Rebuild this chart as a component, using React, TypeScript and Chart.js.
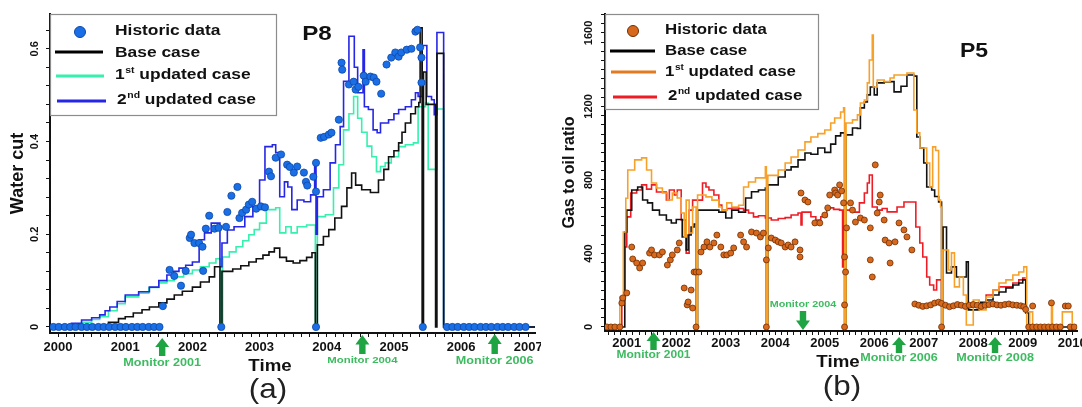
import React, { useEffect, useRef } from 'react';
import { Chart, registerables } from 'chart.js';

Chart.register(...registerables);

const SANS = '"Liberation Sans", Arial, Helvetica, sans-serif';

// ---------------- P8 : water cut ----------------
const p8Historic: [number, number][] = [
  [1999.93, 0], [2000.01, 0], [2000.1, 0], [2000.18, 0], [2000.26, 0], [2000.35, 0], [2000.43, 0],
  [2000.51, 0], [2000.6, 0], [2000.68, 0], [2000.76, 0], [2000.85, 0], [2000.93, 0], [2001.01, 0],
  [2001.1, 0], [2001.18, 0], [2001.26, 0], [2001.35, 0], [2001.43, 0], [2001.51, 0],
  [2001.56, 0.045], [2001.66, 0.123], [2001.73, 0.11], [2001.83, 0.089], [2001.9, 0.121], [2001.96, 0.192],
  [2001.98, 0.199], [2002.03, 0.181], [2002.1, 0.181], [2002.15, 0.173], [2002.16, 0.121], [2002.2, 0.212],
  [2002.25, 0.24], [2002.33, 0.212], [2002.39, 0.214], [2002.43, 0], [2002.5, 0.216], [2002.52, 0.248],
  [2002.58, 0.283], [2002.67, 0.302], [2002.7, 0.235], [2002.74, 0.246], [2002.8, 0.253], [2002.84, 0.264],
  [2002.89, 0.27], [2002.95, 0.255], [2003.02, 0.26], [2003.08, 0.258], [2003.14, 0.335], [2003.17, 0.325],
  [2003.24, 0.365], [2003.32, 0.372], [2003.41, 0.35], [2003.45, 0.345], [2003.51, 0.333], [2003.56, 0.346],
  [2003.66, 0.333], [2003.69, 0.313], [2003.71, 0.305], [2003.8, 0.324], [2003.84, 0.354], [2003.84, 0.292],
  [2003.84, 0], [2003.91, 0.408], [2003.96, 0.41], [2004.03, 0.415], [2004.07, 0.419], [2004.18, 0.447],
  [2004.22, 0.57], [2004.23, 0.555], [2004.33, 0.523], [2004.4, 0.529], [2004.43, 0.512], [2004.47, 0.518],
  [2004.55, 0.542], [2004.58, 0.529], [2004.65, 0.54], [2004.7, 0.538], [2004.74, 0.529], [2004.81, 0.503],
  [2004.89, 0.566], [2004.96, 0.581], [2005.02, 0.592], [2005.07, 0.583], [2005.11, 0.592], [2005.19, 0.598],
  [2005.26, 0.6], [2005.32, 0.637], [2005.35, 0.641], [2005.39, 0.603], [2005.41, 0.581], [2005.41, 0.527],
  [2005.43, 0],
  [2005.79, 0], [2005.87, 0], [2005.95, 0], [2006.04, 0], [2006.12, 0], [2006.2, 0], [2006.29, 0],
  [2006.37, 0], [2006.45, 0], [2006.54, 0], [2006.62, 0], [2006.7, 0], [2006.79, 0], [2006.87, 0], [2006.96, 0],
];

const p8Base: [number, number][] = [
  [1999.88, 0], [2000.75, 0.01], [2000.9, 0.018], [2001.0, 0.022], [2001.12, 0.03], [2001.25, 0.037],
  [2001.36, 0.043], [2001.5, 0.052], [2001.62, 0.06], [2001.73, 0.069], [2001.85, 0.077], [2002.0, 0.086],
  [2002.12, 0.097], [2002.25, 0.108], [2002.33, 0.13], [2002.41, 0], [2002.44, 0.12], [2002.6, 0.125],
  [2002.72, 0.132], [2002.84, 0.14], [2002.95, 0.147], [2003.05, 0.155], [2003.14, 0.162], [2003.22, 0.17],
  [2003.3, 0.15], [2003.4, 0.142], [2003.5, 0.138], [2003.6, 0.143], [2003.7, 0.15], [2003.78, 0.16],
  [2003.83, 0], [2003.86, 0.177], [2003.95, 0.195], [2004.03, 0.21], [2004.12, 0.235], [2004.22, 0.26],
  [2004.3, 0.3], [2004.37, 0.332], [2004.43, 0.306], [2004.52, 0.296], [2004.65, 0.29], [2004.77, 0.317],
  [2004.85, 0.34], [2004.92, 0.367], [2005.0, 0.38], [2005.07, 0.397], [2005.12, 0.42], [2005.17, 0.44],
  [2005.25, 0.46], [2005.32, 0.475], [2005.37, 0.484], [2005.39, 0.645], [2005.42, 0], [2005.44, 0.55],
  [2005.48, 0.48], [2005.62, 0], [2005.64, 0.59], [2005.74, 0], [2007.1, 0],
];

const p8First: [number, number][] = [
  [1999.88, 0], [2000.2, 0.004], [2000.35, 0.01], [2000.5, 0.016], [2000.62, 0.022], [2000.75, 0.035],
  [2000.88, 0.05], [2001.0, 0.065], [2001.2, 0.073], [2001.35, 0.085], [2001.5, 0.095], [2001.62, 0.1],
  [2001.73, 0.108], [2001.87, 0.115], [2002.0, 0.123], [2002.12, 0.13], [2002.25, 0.138], [2002.35, 0.147],
  [2002.42, 0], [2002.45, 0.151], [2002.55, 0.162], [2002.65, 0.173], [2002.75, 0.186], [2002.84, 0.199],
  [2002.92, 0.21], [2003.0, 0.224], [2003.1, 0.253], [2003.24, 0.257], [2003.3, 0.203], [2003.39, 0.216],
  [2003.47, 0.203], [2003.56, 0.216], [2003.7, 0.22], [2003.83, 0], [2003.86, 0.238], [2003.98, 0.242],
  [2004.1, 0.3], [2004.18, 0.35], [2004.25, 0.425], [2004.33, 0.46], [2004.4, 0.497], [2004.46, 0.45],
  [2004.52, 0.42], [2004.6, 0.39], [2004.67, 0.367], [2004.74, 0.335], [2004.8, 0.346], [2004.87, 0.354],
  [2004.96, 0.367], [2005.07, 0.389], [2005.17, 0.393], [2005.29, 0.397], [2005.36, 0.475], [2005.47, 0.483],
  [2005.51, 0.34], [2005.64, 0.47], [2005.74, 0], [2007.1, 0],
];

const p8Second: [number, number][] = [
  [1999.88, 0], [2000.05, 0.004], [2000.2, 0.008], [2000.35, 0.015], [2000.5, 0.02], [2000.62, 0.026],
  [2000.7, 0.035], [2000.77, 0.043], [2000.88, 0.055], [2001.0, 0.069], [2001.2, 0.076], [2001.36, 0.086],
  [2001.5, 0.1], [2001.62, 0.112], [2001.72, 0.12], [2001.8, 0.127], [2001.9, 0.133], [2002.0, 0.14],
  [2002.1, 0.188], [2002.18, 0.203], [2002.28, 0.224], [2002.41, 0.13], [2002.44, 0.181], [2002.52, 0.209],
  [2002.62, 0.216], [2002.78, 0.238], [2002.9, 0.26], [2003.0, 0.317], [2003.08, 0.389], [2003.19, 0.393],
  [2003.24, 0.376], [2003.3, 0.281], [2003.37, 0.313], [2003.42, 0.302], [2003.48, 0.253], [2003.56, 0.274],
  [2003.66, 0.27], [2003.76, 0.285], [2003.82, 0.354], [2003.84, 0.2], [2003.86, 0.281], [2003.95, 0.296],
  [2004.05, 0.354], [2004.13, 0.393], [2004.2, 0.432], [2004.25, 0.53], [2004.33, 0.627], [2004.41, 0.56],
  [2004.46, 0.505], [2004.54, 0.598], [2004.56, 0.475], [2004.62, 0.469], [2004.69, 0.425], [2004.75, 0.419],
  [2004.8, 0.44], [2004.92, 0.447], [2005.0, 0.46], [2005.07, 0.469], [2005.17, 0.475], [2005.26, 0.49],
  [2005.32, 0.505], [2005.36, 0.497], [2005.42, 0.607], [2005.49, 0.497], [2005.56, 0.49], [2005.6, 0.458],
  [2005.64, 0.635], [2005.74, 0], [2007.1, 0],
];

const p8XTickValues = [2000, 2001, 2002, 2003, 2004, 2005, 2006, 2007];
const p8YTickValues = [0, 0.2, 0.4, 0.6];
const p8YTickLabels = ['0', '0.2', '0.4', '0.6'];
const p8MonitorYears = [2001.55, 2004.53, 2006.5];
const p8MonitorLabels = ['Monitor 2001', 'Monitor 2004', 'Monitor 2006'];
const p8SeriesLabels = ['Historic data', 'Base case', '1st updated case', '2nd updated case'];

// ---------------- P5 : gas to oil ratio ----------------
const p5Historic: [number, number][] = [
  [2000.6, 0], [2000.68, 0], [2000.76, 0], [2000.86, 0], [2000.9, 130], [2000.92, 158], [2001.0, 185],
  [2001.1, 435], [2001.12, 370], [2001.2, 348], [2001.26, 321], [2001.32, 348], [2001.46, 402], [2001.5, 419],
  [2001.56, 392], [2001.66, 392], [2001.72, 408], [2001.82, 337], [2001.88, 365], [2001.92, 392], [2002.02, 419],
  [2002.06, 457], [2002.16, 212], [2002.22, 120], [2002.24, 136], [2002.3, 201], [2002.33, 103], [2002.36, 299],
  [2002.4, 299], [2002.4, 0], [2002.46, 299], [2002.5, 408], [2002.56, 435], [2002.62, 463], [2002.68, 435],
  [2002.76, 457], [2002.82, 500], [2002.9, 435], [2002.96, 392], [2003.02, 392], [2003.1, 402], [2003.16, 430],
  [2003.3, 500], [2003.36, 463], [2003.42, 435], [2003.52, 517], [2003.62, 511], [2003.7, 490], [2003.76, 511],
  [2003.82, 365], [2003.82, 0], [2003.86, 430], [2003.92, 484], [2004.0, 473], [2004.06, 463], [2004.12, 457],
  [2004.2, 435], [2004.26, 446], [2004.32, 435], [2004.4, 463], [2004.5, 419], [2004.5, 381], [2004.52, 729],
  [2004.6, 691], [2004.66, 680], [2004.8, 566], [2004.9, 566], [2005.0, 609], [2005.06, 648], [2005.1, 718],
  [2005.2, 745], [2005.22, 729], [2005.26, 718], [2005.3, 773], [2005.34, 740], [2005.38, 675], [2005.4, 381],
  [2005.42, 299], [2005.4, 0], [2005.4, 120], [2005.44, 539], [2005.52, 675], [2005.56, 636], [2005.62, 571],
  [2005.72, 593], [2005.8, 582], [2005.92, 539], [2005.92, 365], [2005.96, 272], [2006.02, 882], [2006.06, 620],
  [2006.1, 680], [2006.12, 718], [2006.2, 582], [2006.22, 473], [2006.3, 457], [2006.32, 348], [2006.42, 463],
  [2006.5, 566], [2006.6, 528], [2006.66, 490], [2006.76, 419],
  [2006.82, 125], [2006.9, 118], [2006.98, 112], [2007.06, 115], [2007.14, 120], [2007.22, 130], [2007.3, 135],
  [2007.36, 128], [2007.36, 0], [2007.44, 118], [2007.52, 110], [2007.6, 115], [2007.68, 122], [2007.76, 118],
  [2007.84, 112], [2007.92, 118], [2008.0, 122], [2008.08, 118], [2008.16, 112], [2008.24, 118], [2008.32, 122],
  [2008.4, 125], [2008.48, 120], [2008.56, 118], [2008.64, 122], [2008.72, 125], [2008.8, 120], [2008.88, 118],
  [2008.96, 115], [2009.02, 110], [2009.06, 95],
  [2009.12, 0], [2009.2, 114], [2009.2, 0], [2009.28, 0], [2009.36, 0], [2009.44, 0], [2009.52, 0],
  [2009.58, 131], [2009.6, 0], [2009.68, 0], [2009.76, 0], [2009.86, 114], [2009.92, 114], [2009.96, 0],
  [2010.04, 0],
];

const p5Base: [number, number][] = [
  [2000.56, 0], [2000.96, 517], [2001.0, 636], [2001.1, 745], [2001.22, 762], [2001.32, 691], [2001.42, 675],
  [2001.52, 636], [2001.66, 609], [2001.8, 582], [2001.9, 566], [2002.0, 585], [2002.12, 490], [2002.2, 419],
  [2002.24, 500], [2002.3, 544], [2002.36, 560], [2002.4, 0], [2002.43, 636], [2002.86, 625], [2003.0, 593],
  [2003.12, 636], [2003.26, 625], [2003.4, 702], [2003.52, 736], [2003.66, 745], [2003.8, 756], [2003.82, 0],
  [2003.85, 773], [2004.06, 816], [2004.2, 854], [2004.32, 871], [2004.46, 909], [2004.6, 947], [2004.72, 940],
  [2004.86, 974], [2005.0, 950], [2005.12, 995], [2005.22, 1040], [2005.32, 1056], [2005.4, 0], [2005.43, 1045],
  [2005.56, 1083], [2005.66, 1080], [2005.72, 1192], [2005.8, 1224], [2005.86, 1263], [2005.92, 1306],
  [2006.0, 1263], [2006.06, 1328], [2006.2, 1333], [2006.32, 1335], [2006.4, 1279], [2006.54, 1310],
  [2006.66, 1371], [2006.8, 1365], [2006.86, 1034], [2006.92, 974], [2007.0, 892], [2007.06, 762],
  [2007.16, 745], [2007.22, 710], [2007.3, 680], [2007.36, 0], [2007.39, 544], [2007.46, 294], [2007.56, 327],
  [2007.66, 272], [2007.8, 272], [2007.86, 354], [2007.9, 93], [2008.12, 131], [2008.26, 147], [2008.4, 174],
  [2008.52, 190], [2008.66, 212], [2008.8, 228], [2008.92, 239], [2009.0, 256], [2009.06, 76], [2009.12, 0],
  [2010.1, 0],
];

const p5First: [number, number][] = [
  [2000.56, 0], [2000.86, 163], [2000.93, 517], [2000.98, 700], [2001.02, 854], [2001.16, 909], [2001.3, 920],
  [2001.4, 854], [2001.5, 783], [2001.6, 756], [2001.72, 729], [2001.82, 691], [2001.92, 729], [2002.02, 702],
  [2002.1, 620], [2002.16, 490], [2002.2, 690], [2002.26, 511], [2002.33, 653], [2002.4, 0], [2002.43, 718],
  [2002.6, 708], [2002.72, 690], [2002.86, 653], [2002.92, 636], [2003.02, 675], [2003.12, 653], [2003.26, 662],
  [2003.36, 762], [2003.46, 789], [2003.6, 811], [2003.8, 871], [2003.82, 0], [2003.85, 825], [2004.06, 854],
  [2004.2, 892], [2004.32, 925], [2004.46, 963], [2004.6, 1007], [2004.72, 1034], [2004.86, 1052],
  [2005.0, 1072], [2005.12, 1110], [2005.2, 1137], [2005.32, 1170], [2005.38, 1192], [2005.4, 0],
  [2005.43, 1110], [2005.56, 1127], [2005.66, 1154], [2005.72, 1219], [2005.8, 1235], [2005.86, 1328],
  [2005.9, 1453], [2005.96, 1589], [2005.98, 1306], [2006.06, 1344], [2006.2, 1335], [2006.32, 1355],
  [2006.4, 1371], [2006.66, 1382], [2006.8, 1181], [2006.86, 1056], [2006.92, 974], [2007.06, 892],
  [2007.12, 762], [2007.18, 980], [2007.24, 960], [2007.3, 691], [2007.34, 653], [2007.36, 0], [2007.39, 419],
  [2007.5, 310], [2007.56, 403], [2007.62, 218], [2007.72, 272], [2007.8, 174], [2007.86, 11], [2008.0, 147],
  [2008.12, 93], [2008.26, 163], [2008.4, 201], [2008.52, 239], [2008.66, 256], [2008.8, 283], [2008.92, 299],
  [2009.02, 327], [2009.08, 0], [2009.14, 82], [2009.2, 0], [2009.56, 0], [2009.58, 136], [2009.6, 0],
  [2009.8, 82], [2010.0, 0], [2010.1, 0],
];

const p5Second: [number, number][] = [
  [2000.56, 0], [2000.9, 150], [2000.96, 435], [2001.0, 599], [2001.08, 729], [2001.2, 745], [2001.3, 773],
  [2001.4, 750], [2001.5, 773], [2001.6, 734], [2001.8, 691], [2001.86, 745], [2001.96, 718], [2002.02, 745],
  [2002.1, 582], [2002.2, 402], [2002.26, 636], [2002.33, 690], [2002.53, 783], [2002.6, 762], [2002.66, 745],
  [2002.76, 718], [2002.86, 664], [2002.92, 636], [2003.02, 645], [2003.12, 648], [2003.26, 645],
  [2003.36, 636], [2003.46, 620], [2003.56, 599], [2003.66, 605], [2003.8, 593], [2003.92, 582], [2004.06, 590],
  [2004.2, 595], [2004.32, 609], [2004.46, 620], [2004.52, 555], [2004.54, 625], [2004.72, 600], [2004.82, 582],
  [2004.92, 600], [2005.04, 648], [2005.18, 640], [2005.3, 636], [2005.36, 327], [2005.38, 636],
  [2005.56, 625], [2005.7, 675], [2005.8, 729], [2005.86, 783], [2005.9, 827], [2005.96, 653], [2006.06, 636],
  [2006.16, 645], [2006.26, 626], [2006.46, 653], [2006.6, 680], [2006.84, 544], [2006.92, 457],
  [2006.98, 381], [2007.06, 272], [2007.12, 228], [2007.2, 201], [2007.26, 256], [2007.36, 131],
  [2007.4, 109], [2007.6, 120], [2007.7, 109], [2008.12, 136], [2008.26, 174], [2008.4, 201], [2008.52, 218],
  [2008.8, 239], [2008.92, 256], [2009.0, 266], [2009.06, 266],
];

const p5XTickValues = [2001, 2002, 2003, 2004, 2005, 2006, 2007, 2008, 2009, 2010];
const p5YTickValues = [0, 400, 800, 1200, 1600];
const p5YTickLabels = ['0', '400', '800', '1200', '1600'];
const p5MonitorYears = [2001.54, 2004.56, 2006.5, 2008.44];
const p5MonitorLabels = ['Monitor 2001', 'Monitor 2004', 'Monitor 2006', 'Monitor 2008'];
const p5SeriesLabels = ['Historic data', 'Base case', '1st updated case', '2nd updated case'];

// ---------------- drawing helpers ----------------
const ARROW_GREEN = '#1fa443';
const TEXT_GREEN = '#3dbb60';

function drawText(ctx: CanvasRenderingContext2D, s: string, x: number, y: number, font: string,
  color: string, align: CanvasTextAlign = 'center', sx = 1) {
  ctx.save();
  ctx.translate(x, y);
  ctx.scale(sx, 1);
  ctx.font = font;
  ctx.fillStyle = color;
  ctx.textAlign = align;
  ctx.textBaseline = 'middle';
  ctx.fillText(s, 0, 0);
  ctx.restore();
}

function drawLegendLabel(ctx: CanvasRenderingContext2D, label: string, x: number, y: number, size: number, sx: number) {
  const m = label.match(/^(\d)(st|nd|rd|th)(.*)$/);
  ctx.save();
  ctx.translate(x, y);
  ctx.scale(sx, 1);
  ctx.fillStyle = '#111';
  ctx.textBaseline = 'middle';
  ctx.textAlign = 'left';
  ctx.font = `bold ${size}px ${SANS}`;
  if (!m) {
    ctx.fillText(label, 0, 0);
  } else {
    ctx.fillText(m[1], 0, 0);
    let w = ctx.measureText(m[1]).width + 0.5;
    ctx.font = `bold ${Math.round(size * 0.62)}px ${SANS}`;
    ctx.fillText(m[2], w, -size * 0.3);
    w += ctx.measureText(m[2]).width;
    ctx.font = `bold ${size}px ${SANS}`;
    ctx.fillText(m[3], w, 0);
  }
  ctx.restore();
}

function drawArrow(ctx: CanvasRenderingContext2D, x: number, tipY: number, baseY: number, color: string) {
  const dir = tipY < baseY ? 1 : -1;
  const len = Math.abs(baseY - tipY);
  const neckY = tipY + dir * len * 0.5;
  const headW = 7;
  const shaftW = 3.2;
  ctx.save();
  ctx.fillStyle = color;
  ctx.beginPath();
  ctx.moveTo(x, tipY);
  ctx.lineTo(x + headW, neckY);
  ctx.lineTo(x + shaftW, neckY);
  ctx.lineTo(x + shaftW, baseY);
  ctx.lineTo(x - shaftW, baseY);
  ctx.lineTo(x - shaftW, neckY);
  ctx.lineTo(x - headW, neckY);
  ctx.closePath();
  ctx.fill();
  ctx.restore();
}

type LegendItem = { kind: 'dot' | 'line'; color: string; edge?: string; x0: number; x1?: number; y: number; tx: number; ty: number };
type MonitorPos = { tip: number; base: number; ty: number; size: number };
type Decor = {
  box: { x: number; y: number; w: number; h: number };
  items: LegendItem[];
  labels: string[];
  legendSize: number;
  legendSx: number;
  title: { text: string; x: number; y: number; size: number };
  time: { x: number; y: number };
  panel: { text: string; x: number; y: number };
  monitorYears: number[];
  monitorLabels: string[];
  monitorPos: MonitorPos[];
};

function drawDecor(chart: Chart, d: Decor) {
  const ctx = chart.ctx;
  const xs = chart.scales.x;
  ctx.save();
  ctx.fillStyle = '#ffffff';
  ctx.fillRect(d.box.x + 1, d.box.y, d.box.w - 1, d.box.h);
  ctx.strokeStyle = '#8c8c8c';
  ctx.lineWidth = 1.2;
  ctx.strokeRect(d.box.x + 0.5, d.box.y + 0.5, d.box.w, d.box.h);
  d.items.forEach((it, i) => {
    if (it.kind === 'dot') {
      ctx.beginPath();
      ctx.arc(it.x0, it.y, 5.5, 0, Math.PI * 2);
      ctx.fillStyle = it.color;
      ctx.fill();
      ctx.lineWidth = 1;
      ctx.strokeStyle = it.edge || it.color;
      ctx.stroke();
    } else {
      ctx.beginPath();
      ctx.moveTo(it.x0, it.y);
      ctx.lineTo(it.x1 || it.x0, it.y);
      ctx.strokeStyle = it.color;
      ctx.lineWidth = 3.2;
      ctx.stroke();
    }
    drawLegendLabel(ctx, d.labels[i], it.tx, it.ty, d.legendSize, d.legendSx);
  });
  drawText(ctx, d.title.text, d.title.x, d.title.y, `bold ${d.title.size}px ${SANS}`, '#111', 'center', 1.15);
  drawText(ctx, 'Time', d.time.x, d.time.y, `bold 17px ${SANS}`, '#111', 'center', 1.1);
  drawText(ctx, d.panel.text, d.panel.x, d.panel.y, `28px ${SANS}`, '#222', 'center', 1.12);
  d.monitorYears.forEach((t, i) => {
    const px = xs.getPixelForValue(t);
    const p = d.monitorPos[i];
    drawArrow(ctx, px, p.tip, p.base, ARROW_GREEN);
    drawText(ctx, d.monitorLabels[i], px, p.ty, `bold ${p.size}px ${SANS}`, TEXT_GREEN, 'center', 1.2);
  });
  ctx.restore();
}

type Spec = {
  xMin: number; xMax: number; xStep: number; xTicks: number[]; xPad: number;
  yMin: number; yMax: number; yStep: number; yTicks: number[]; yLabels: string[]; yPad: number;
  yTitle: string; yTitleSize: number; yTitlePad: number;
  yAxisW: number; xAxisH: number; padTop: number; padRight: number;
  historic: [number, number][]; hFill: string; hEdge: string; hRadius: number;
  lines: { data: [number, number][]; color: string; order: number; width: number }[];
  decor: Decor;
};

const toXY = (arr: [number, number][]) => arr.map(([x, y]) => ({ x, y }));

// tick marks placed on multiples of the step within [min, max]
function stepTicks(min: number, max: number, step: number) {
  const out: { value: number }[] = [];
  const k0 = Math.ceil(min / step - 1e-9);
  const k1 = Math.floor(max / step + 1e-9);
  for (let k = k0; k <= k1; k++) out.push({ value: k * step });
  return out;
}

function buildChart(canvas: HTMLCanvasElement, s: Spec) {
  const decorPlugin = {
    id: 'decor',
    afterDraw(chart: Chart) {
      drawDecor(chart, s.decor);
    },
  };
  const datasets: any[] = [
    {
      label: 'historic',
      data: toXY(s.historic),
      showLine: false,
      pointRadius: s.hRadius,
      pointBackgroundColor: s.hFill,
      pointBorderColor: s.hEdge,
      pointBorderWidth: 0.8,
      order: 0,
    },
    ...s.lines.map((l) => ({
      data: toXY(l.data),
      stepped: 'before',
      borderColor: l.color,
      borderWidth: l.width,
      pointRadius: 0,
      fill: false,
      order: l.order,
    })),
  ];
  return new Chart(canvas, {
    type: 'line',
    data: { datasets },
    options: {
      animation: false,
      responsive: false,
      maintainAspectRatio: false,
      events: [],
      layout: { padding: { left: 0, right: s.padRight, top: s.padTop, bottom: 0 } },
      plugins: { legend: { display: false }, tooltip: { enabled: false } },
      scales: {
        x: {
          type: 'linear',
          min: s.xMin,
          max: s.xMax,
          afterBuildTicks: (sc: any) => {
            sc.ticks = stepTicks(s.xMin, s.xMax, s.xStep);
          },
          afterFit: (sc: any) => {
            sc.height = s.xAxisH;
            sc.paddingLeft = 0;
            sc.paddingRight = 0;
          },
          ticks: {
            autoSkip: false,
            maxRotation: 0,
            minRotation: 0,
            padding: s.xPad,
            color: '#111',
            font: { family: SANS, size: 13, weight: 'bold' },
            callback: (v: any) => {
              const i = s.xTicks.findIndex((t) => Math.abs(t - Number(v)) < 1e-6);
              return i >= 0 ? String(s.xTicks[i]) : '';
            },
          },
          grid: { drawOnChartArea: false, tickLength: 4, tickColor: '#111', tickWidth: 1 },
          border: { color: '#111', width: 2 },
        },
        y: {
          type: 'linear',
          min: s.yMin,
          max: s.yMax,
          afterBuildTicks: (sc: any) => {
            sc.ticks = stepTicks(s.yMin, s.yMax, s.yStep);
          },
          afterFit: (sc: any) => {
            sc.width = s.yAxisW;
            sc.paddingTop = 0;
            sc.paddingBottom = 0;
          },
          ticks: {
            autoSkip: false,
            minRotation: 90,
            maxRotation: 90,
            crossAlign: 'center',
            padding: s.yPad,
            color: '#111',
            font: { family: SANS, size: 11, weight: 'bold' },
            callback: (v: any) => {
              const i = s.yTicks.findIndex((t) => Math.abs(t - Number(v)) < 1e-6);
              return i >= 0 ? s.yLabels[i] : '';
            },
          },
          title: {
            display: true,
            text: s.yTitle,
            color: '#111',
            font: { family: SANS, size: s.yTitleSize, weight: 'bold' },
            padding: { top: s.yTitlePad, bottom: 0 },
          },
          grid: { drawOnChartArea: false, tickLength: 4, tickColor: '#111', tickWidth: 1 },
          border: { color: '#111', width: 2 },
        },
      },
    } as any,
    plugins: [decorPlugin],
  });
}

const P8_DOT = '#1b6fe6';
const P8_DOT_EDGE = '#0d47a8';
const P8_GREEN = '#36f0ad';
const P8_BLUE = '#2626e6';
const P5_DOT = '#d8691c';
const P5_DOT_EDGE = '#6e2e05';
const P5_ORANGE = '#f6a12a';
const P5_ORANGE_LEG = '#e17a22';
const P5_RED = '#ee1d25';

const p8Spec: Spec = {
  xMin: 1999.88, xMax: 2007.1, xStep: 0.125, xTicks: p8XTickValues, xPad: 3,
  yMin: -0.013, yMax: 0.675, yStep: 0.04, yTicks: p8YTickValues, yLabels: p8YTickLabels, yPad: 3,
  yTitle: 'Water cut', yTitleSize: 18, yTitlePad: 7,
  yAxisW: 50, xAxisH: 74, padTop: 14, padRight: 6,
  historic: p8Historic, hFill: P8_DOT, hEdge: P8_DOT_EDGE, hRadius: 3.6,
  lines: [
    { data: p8Base, color: '#111111', order: 1, width: 1.6 },
    { data: p8Second, color: P8_BLUE, order: 2, width: 1.6 },
    { data: p8First, color: P8_GREEN, order: 3, width: 1.6 },
  ],
  decor: {
    box: { x: 50, y: 14, w: 226, h: 101 },
    items: [
      { kind: 'dot', color: P8_DOT, edge: P8_DOT_EDGE, x0: 80, y: 32, tx: 115, ty: 31 },
      { kind: 'line', color: '#000000', x0: 55, x1: 103, y: 52, tx: 115, ty: 53 },
      { kind: 'line', color: P8_GREEN, x0: 56, x1: 104, y: 76, tx: 115, ty: 75 },
      { kind: 'line', color: P8_BLUE, x0: 57, x1: 106, y: 101, tx: 117, ty: 100 },
    ],
    labels: p8SeriesLabels,
    legendSize: 15,
    legendSx: 1.16,
    title: { text: 'P8', x: 317, y: 34, size: 21 },
    time: { x: 270, y: 366 },
    panel: { text: '(a)', x: 268, y: 390 },
    monitorYears: p8MonitorYears,
    monitorLabels: p8MonitorLabels,
    monitorPos: [
      { tip: 338, base: 356, ty: 363, size: 10.5 },
      { tip: 335, base: 354, ty: 360, size: 9.5 },
      { tip: 334, base: 354, ty: 361, size: 10.5 },
    ],
  },
};

const p5Spec: Spec = {
  xMin: 2000.56, xMax: 2010.1, xStep: 0.125, xTicks: p5XTickValues, xPad: 1,
  yMin: -22, yMax: 1703, yStep: 50, yTicks: p5YTickValues, yLabels: p5YTickLabels, yPad: 0,
  yTitle: 'Gas to oil ratio', yTitleSize: 16, yTitlePad: 19,
  yAxisW: 64, xAxisH: 76, padTop: 14, padRight: 0,
  historic: p5Historic, hFill: P5_DOT, hEdge: P5_DOT_EDGE, hRadius: 3,
  lines: [
    { data: p5First, color: P5_ORANGE, order: 1, width: 1.6 },
    { data: p5Base, color: '#111111', order: 2, width: 1.6 },
    { data: p5Second, color: P5_RED, order: 3, width: 1.6 },
  ],
  decor: {
    box: { x: 64, y: 14, w: 213, h: 95 },
    items: [
      { kind: 'dot', color: P5_DOT, edge: P5_DOT_EDGE, x0: 92, y: 31, tx: 124, ty: 30 },
      { kind: 'line', color: '#000000', x0: 69, x1: 114, y: 51, tx: 124, ty: 51 },
      { kind: 'line', color: P5_ORANGE_LEG, x0: 70, x1: 115, y: 72, tx: 124, ty: 72 },
      { kind: 'line', color: P5_RED, x0: 72, x1: 116, y: 97, tx: 127, ty: 96 },
    ],
    labels: p5SeriesLabels,
    legendSize: 15,
    legendSx: 1.12,
    title: { text: 'P5', x: 433, y: 51, size: 20 },
    time: { x: 297, y: 362 },
    panel: { text: '(b)', x: 301, y: 387 },
    monitorYears: p5MonitorYears,
    monitorLabels: p5MonitorLabels,
    monitorPos: [
      { tip: 332, base: 350, ty: 355, size: 10 },
      { tip: 330, base: 311, ty: 305, size: 9 },
      { tip: 337, base: 353, ty: 358, size: 10.5 },
      { tip: 337, base: 353, ty: 358, size: 10.5 },
    ],
  },
};

function PanelChart({ spec, left }: { spec: Spec; left: number }) {
  const ref = useRef<HTMLCanvasElement>(null);
  useEffect(() => {
    if (!ref.current) return;
    const chart = buildChart(ref.current, spec);
    return () => chart.destroy();
  }, [spec]);
  return (
    <canvas
      ref={ref}
      width={541}
      height={407}
      style={{ position: 'absolute', left, top: 0, width: 541, height: 407 }}
    />
  );
}

export default function App() {
  return (
    <div style={{ position: 'absolute', left: 0, top: 0, width: 1082, height: 407, background: '#ffffff', overflow: 'hidden' }}>
      <PanelChart spec={p8Spec} left={0} />
      <PanelChart spec={p5Spec} left={541} />
    </div>
  );
}
